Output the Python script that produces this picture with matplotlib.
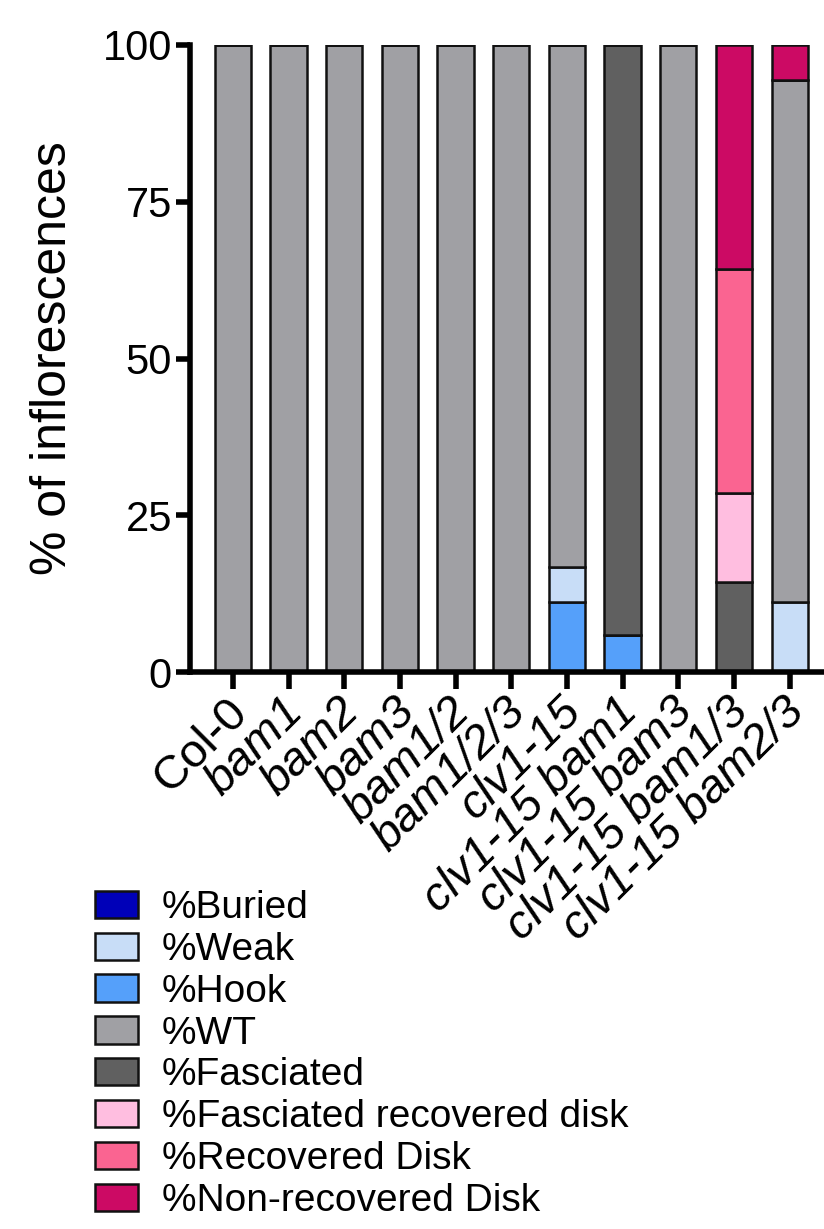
import matplotlib
matplotlib.use("Agg")
import matplotlib.pyplot as plt
import matplotlib.transforms as mtransforms
import numpy as np

plt.rcParams['font.family'] = ['Liberation Sans', 'DejaVu Sans']

categories = ["Col-0", "bam1", "bam2", "bam3", "bam1/2", "bam1/2/3", "clv1-15",
              "clv1-15 bam1", "clv1-15 bam3", "clv1-15 bam1/3", "clv1-15 bam2/3"]
italic = [False] + [True] * 10

# stacking order bottom -> top
series_names = ["%Buried", "%Hook", "%Weak", "%WT", "%Fasciated",
                "%Fasciated recovered disk", "%Recovered Disk", "%Non-recovered Disk"]
buried     = [0, 0, 0, 0, 0, 0, 0,    0,    0, 0,    0]
hook       = [0, 0, 0, 0, 0, 0, 11.1, 5.9,  0, 0,    0]
weak       = [0, 0, 0, 0, 0, 0, 5.6,  0,    0, 0,    11.1]
wt         = [100, 100, 100, 100, 100, 100, 83.3, 0, 100, 0, 83.3]
fasciated  = [0, 0, 0, 0, 0, 0, 0,    94.1, 0, 14.3, 0]
fasc_rec   = [0, 0, 0, 0, 0, 0, 0,    0,    0, 14.3, 0]
rec_disk   = [0, 0, 0, 0, 0, 0, 0,    0,    0, 35.7, 0]
nonrec     = [0, 0, 0, 0, 0, 0, 0,    0,    0, 35.7, 5.6]
series = [buried, hook, weak, wt, fasciated, fasc_rec, rec_disk, nonrec]
colors = {"%Buried": "#0000B8", "%Weak": "#C8DDF7", "%Hook": "#55A0FA",
          "%WT": "#A0A0A4", "%Fasciated": "#606060",
          "%Fasciated recovered disk": "#FFBEE0", "%Recovered Disk": "#FA6491",
          "%Non-recovered Disk": "#CC0A64"}
legend_order = ["%Buried", "%Weak", "%Hook", "%WT", "%Fasciated",
                "%Fasciated recovered disk", "%Recovered Disk", "%Non-recovered Disk"]

fig = plt.figure(figsize=(8.24, 12.29), dpi=100)
ax = fig.add_axes([190/824, (1229-672)/1229, (823-190)/824, (672-45)/1229])

x = np.arange(len(categories))
bottom = np.zeros(len(categories))
handles = {}
for name, vals in zip(series_names, series):
    vals = np.array(vals, dtype=float)
    b = ax.bar(x, vals, bottom=bottom, width=0.65, color=colors[name],
               edgecolor="#111111", linewidth=1.8, label=name)
    handles[name] = b
    bottom += vals

ax.set_ylim(0, 100)
ax.set_xlim(-0.77, 10.6)
ax.set_yticks([0, 25, 50, 75, 100])
ax.tick_params(axis='y', labelsize=30, width=4, length=10, pad=3)
ax.tick_params(axis='x', labelsize=34, width=4, length=12, pad=12)
ax.set_xticks(x)
ax.set_xticklabels(categories, rotation=45, ha='right', va='center',
                   rotation_mode='anchor')
offset = mtransforms.ScaledTranslation(8/100, 0, fig.dpi_scale_trans)
for lab, it in zip(ax.get_xticklabels(), italic):
    lab.set_transform(lab.get_transform() + offset)
    if it:
        lab.set_fontstyle('italic')
for s in ['top', 'right']:
    ax.spines[s].set_visible(False)
for s in ['left', 'bottom']:
    ax.spines[s].set_linewidth(4)
ax.set_ylabel("% of inflorescences", fontsize=36)
ax.yaxis.set_label_coords(-114/633, 0.5)

fig.legend([handles[n] for n in legend_order], legend_order,
           loc='upper left', bbox_to_anchor=(95/824, 1 - 890/1229),
           frameon=False, fontsize=28, handlelength=1.1, handleheight=0.7,
           labelspacing=0.15, handletextpad=0.62, borderpad=0, borderaxespad=0)

fig.savefig("out.png", dpi=100)
